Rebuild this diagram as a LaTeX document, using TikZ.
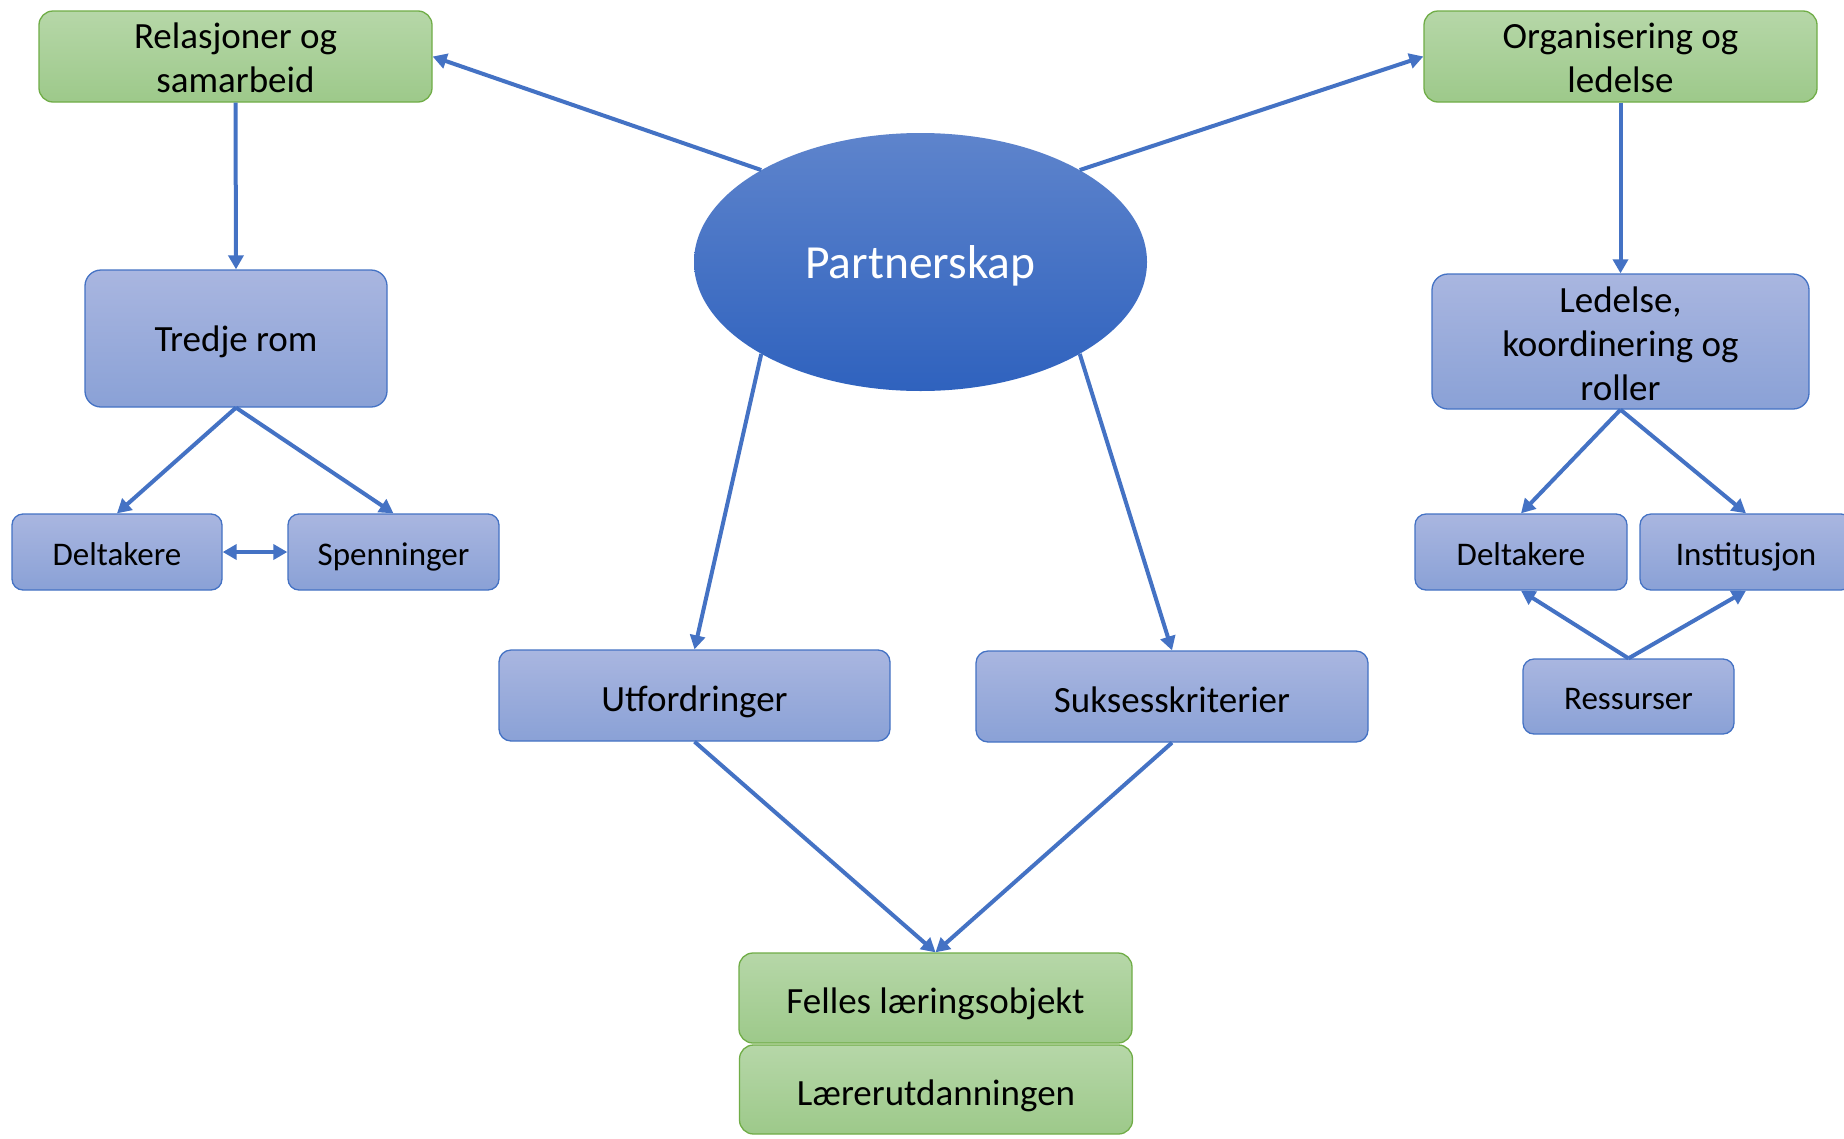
\documentclass[tikz,border=0pt]{standalone}
\usepackage{fontspec}
\setmainfont{Carlito}
\usetikzlibrary{shapes.geometric,arrows.meta}
\definecolor{gtop}{HTML}{B6D7A8}
\definecolor{gbot}{HTML}{9DC98A}
\definecolor{gedge}{HTML}{70AD47}
\definecolor{btop}{HTML}{A9B6E0}
\definecolor{bbot}{HTML}{8AA1D6}
\definecolor{bedge}{HTML}{4472C4}
\definecolor{etop}{HTML}{5E84CC}
\definecolor{ebot}{HTML}{2F62BE}
\definecolor{arr}{HTML}{4472C4}
\begin{document}
\begin{tikzpicture}[x=1pt,y=-1pt,
 greenbox/.style={draw=gedge, line width=1.3pt, rounded corners=14pt, top color=gtop, bottom color=gbot, align=center, inner sep=0pt, font=\fontsize{37}{44}\selectfont},
 bluebig/.style={draw=bedge, line width=1.3pt, rounded corners=16pt, top color=btop, bottom color=bbot, align=center, inner sep=0pt, font=\fontsize{37}{44}\selectfont},
 bluesmall/.style={bluebig, rounded corners=11pt, font=\fontsize{33}{40}\selectfont, text height=33pt, text depth=6.7pt},
 oneline/.style={text height=39pt, text depth=7.2pt},
 conn/.style={draw=arr, line width=4pt, -{Triangle[length=14pt,width=15pt]}},
 conn2/.style={draw=arr, line width=4pt, {Triangle[length=14pt,width=15pt]}-{Triangle[length=14pt,width=15pt]}},
]
\useasboundingbox (0,0) rectangle (1844,1138);
\fill[white] (0,0) rectangle (1844,1138);

\node[greenbox, minimum width=393pt, minimum height=91pt] (rel) at (235.5,56.5) {\rule{0pt}{29pt}Relasjoner og\\samarbeid};
\node[greenbox, minimum width=393pt, minimum height=91pt] (org) at (1620.5,56.5) {\rule{0pt}{29pt}Organisering og\\ledelse};
\node[bluebig, oneline, text height=34pt, minimum width=302pt, minimum height=137pt] (tre) at (236,338.5) {Tredje rom};
\node[bluebig, minimum width=377pt, minimum height=135pt] (led) at (1620.5,341.5) {\rule{0pt}{30pt}Ledelse,\\koordinering og\\roller};
\node[bluesmall, minimum width=210pt, minimum height=76pt] (dl) at (117,552) {Deltakere};
\node[bluesmall, minimum width=211pt, minimum height=76pt] (sp) at (393.5,552) {Spenninger};
\node[bluesmall, minimum width=212pt, minimum height=76pt] (dr) at (1521,552) {Deltakere};
\node[bluesmall, minimum width=212pt, minimum height=76pt] (ins) at (1746,552) {Institusjon};
\node[bluesmall, minimum width=211pt, minimum height=75pt] (res) at (1628.5,696.5) {Ressurser};
\node[ellipse, inner sep=0pt, minimum width=453pt, minimum height=258pt, top color=etop, bottom color=ebot, text=white, font=\fontsize{47.5}{56}\selectfont, text height=42.5pt, text depth=9.4pt] (par) at (920.5,262) {Partnerskap};
\node[bluebig, oneline, rounded corners=12pt, minimum width=391pt, minimum height=91pt] (utf) at (694.5,695.5) {Utfordringer};
\node[bluebig, oneline, rounded corners=12pt, minimum width=392pt, minimum height=91pt] (suk) at (1172,696.5) {Suksesskriterier};
\node[greenbox, oneline, minimum width=393pt, minimum height=90pt] (fel) at (935.5,998) {Felles læringsobjekt};
\node[greenbox, oneline, minimum width=393pt, minimum height=89pt] (lae) at (936,1089.5) {Lærerutdanningen};

\draw[conn] (par.150) -- (rel.east);
\draw[conn] (par.30) -- (org.west);
\draw[conn] (par.210) -- (utf.north);
\draw[conn] (par.330) -- (suk.north);
\draw[conn] (utf.south) -- (fel.north);
\draw[conn] (suk.south) -- (fel.north);
\draw[conn] (rel.south) -- (tre.north);
\draw[conn] (org.south) -- (led.north);
\draw[conn] (tre.south) -- (dl.north);
\draw[conn] (tre.south) -- (sp.north);
\draw[conn2] (dl.east) -- (sp.west);
\draw[conn] (led.south) -- (dr.north);
\draw[conn] (led.south) -- (ins.north);
\draw[conn] (res.north) -- (dr.south);
\draw[conn] (res.north) -- (ins.south);
\end{tikzpicture}
\end{document}
